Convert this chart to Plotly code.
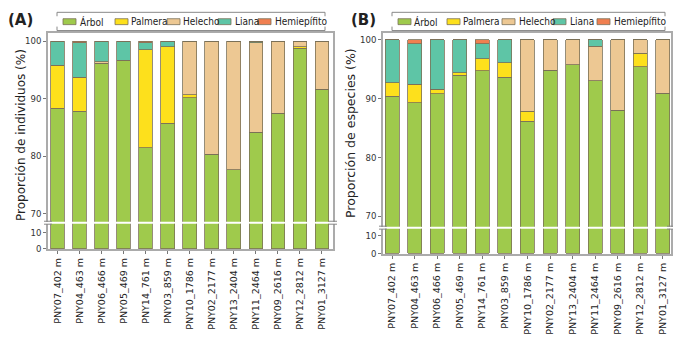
import plotly.graph_objects as go

categories = ["PNY07_402 m", "PNY04_463 m", "PNY06_466 m", "PNY05_469 m", "PNY14_761 m",
              "PNY03_859 m", "PNY10_1786 m", "PNY02_2177 m", "PNY13_2404 m", "PNY11_2464 m",
              "PNY09_2616 m", "PNY12_2812 m", "PNY01_3127 m"]
series_names = ["Árbol", "Palmera", "Helecho", "Liana", "Hemiepífito"]

# Panel A: proporción de individuos (%)
arbol_ind = [88.3, 87.8, 96.2, 96.6, 81.5, 85.7, 90.2, 80.3, 77.6, 84.2, 87.5, 98.8, 91.6]
palmera_ind = [7.5, 5.8, 0, 0, 17.0, 13.3, 0.5, 0, 0, 0, 0, 0.2, 0]
helecho_ind = [0, 0.1, 0.2, 0.1, 0, 0, 9.3, 19.7, 22.4, 15.5, 12.5, 1.0, 8.4]
liana_ind = [4.2, 6.0, 3.6, 3.3, 1.2, 1.0, 0, 0, 0, 0.3, 0, 0, 0]
hemi_ind = [0, 0.3, 0, 0, 0.3, 0, 0, 0, 0, 0, 0, 0, 0]

# Panel B: proporción de especies (%)
arbol_sp = [90.4, 89.3, 90.8, 93.9, 94.7, 93.6, 86.1, 94.8, 95.7, 93.0, 88.0, 95.4, 90.9]
palmera_sp = [2.3, 3.1, 0.8, 0.5, 2.0, 2.5, 1.7, 0, 0, 0, 0, 2.3, 0]
helecho_sp = [0, 0, 0, 0, 0, 0, 12.2, 5.2, 4.3, 5.9, 12.0, 2.3, 9.1]
liana_sp = [7.3, 6.9, 8.4, 5.6, 2.6, 3.9, 0, 0, 0, 1.1, 0, 0, 0]
hemi_sp = [0, 0.7, 0, 0, 0.7, 0, 0, 0, 0, 0, 0, 0, 0]

upper_ticks = [70, 80, 90, 100]
lower_ticks = [0, 10]

colors = ["#9fca4c", "#fde01c", "#edc893", "#5ec5a6", "#f07f50"]
outline = "#7a7058"
FONT = "DejaVu Sans"
FONT_C = "DejaVu Sans Condensed, DejaVu Sans"
W, H = 673, 345

def px_x(x):
    return x / W

def px_y(y):
    return 1 - y / H

fig = go.Figure()

panelA = [arbol_ind, palmera_ind, helecho_ind, liana_ind, hemi_ind]
panelB = [arbol_sp, palmera_sp, helecho_sp, liana_sp, hemi_sp]

for data, (xl, yl, xu, yu) in [(panelA, ("x", "y", "x2", "y2")), (panelB, ("x3", "y3", "x4", "y4"))]:
    for name, vals, col in zip(series_names, data, colors):
        for xa, ya in [(xl, yl), (xu, yu)]:
            fig.add_trace(go.Bar(
                x=categories, y=vals, name=name, xaxis=xa, yaxis=ya,
                marker=dict(color=col, line=dict(color=outline, width=0.8)),
                showlegend=False, hoverinfo="x+y+name"))

frame = "#ababab"
tickfont = dict(family=FONT_C, size=9.5, color="#333333")

def xax(dom, rng, lower):
    d = dict(domain=dom, range=rng, showline=True, linecolor=frame, linewidth=1.5,
             showgrid=False, zeroline=False, fixedrange=True)
    if lower:
        d.update(ticks="outside", ticklen=3, tickcolor="#777", tickangle=-90,
                 tickfont=dict(family=FONT, size=9.5, color="#222"), side="bottom")
    else:
        d.update(showticklabels=False, ticks="", side="top")
    return d

def yax(dom, rng, tickv, anchor):
    return dict(domain=dom, range=rng, anchor=anchor, showline=True, mirror=True,
                linecolor=frame, linewidth=1.5, showgrid=False, zeroline=False,
                tickvals=tickv, ticks="outside", ticklen=3, tickcolor="#777",
                tickfont=tickfont, fixedrange=True)

xA = [px_x(48), px_x(333)]
xB = [px_x(383), px_x(671)]
rA = [-0.43, 12.5]
rB = [-0.4, 12.36]

fig.update_layout(
    width=W, height=H, margin=dict(l=0, r=0, t=0, b=0),
    paper_bgcolor="white", plot_bgcolor="white",
    barmode="stack", bargap=0.38, showlegend=False,
    font=dict(family=FONT, color="#222"),
    xaxis=dict(**xax(xA, rA, True), anchor="y"),
    yaxis=yax([px_y(253), px_y(227)], [-0.4, 15.6], lower_ticks, "x"),
    xaxis2=dict(**xax(xA, rA, False), anchor="y2", matches="x"),
    yaxis2=yax([px_y(225), px_y(33)], [68.6, 101.5], upper_ticks, "x2"),
    xaxis3=dict(**xax(xB, rB, True), anchor="y3"),
    yaxis3=yax([px_y(258), px_y(232)], [-0.5, 13.9], lower_ticks, "x3"),
    xaxis4=dict(**xax(xB, rB, False), anchor="y4", matches="x3"),
    yaxis4=yax([px_y(230), px_y(33)], [68.2, 101.2], upper_ticks, "x4"),
)

shapes = []
annotations = []

# Break marks
for (x0, x1, ya, yb) in [(44, 52, 224.5, 227.5), (329, 337, 224.5, 227.5),
                         (379, 387, 229.5, 232.5), (667, 673, 229.5, 232.5)]:
    for yy in (ya, yb):
        shapes.append(dict(type="line", xref="paper", yref="paper",
                           x0=px_x(x0), x1=px_x(x1), y0=px_y(yy), y1=px_y(yy),
                           line=dict(color="#888", width=1)))

# Custom legends
legA = dict(box=(57, 325), sw=[63, 115, 167, 218, 258], tx=[78, 129, 181, 233, 273])
legB = dict(box=(392, 665), sw=[398, 447, 502, 553, 597], tx=[412, 461, 517, 568, 612])
for leg in (legA, legB):
    bx0, bx1 = leg["box"]
    top, bot = 12.5, 31
    for yy in (top, bot):
        shapes.append(dict(type="line", xref="paper", yref="paper",
                           x0=px_x(bx0), x1=px_x(bx1), y0=px_y(yy), y1=px_y(yy),
                           line=dict(color="#888", width=1)))
    for xx in (bx0, bx1):
        shapes.append(dict(type="line", xref="paper", yref="paper",
                           x0=px_x(xx), x1=px_x(xx), y0=px_y(top), y1=px_y(top + 4),
                           line=dict(color="#888", width=1)))
        shapes.append(dict(type="line", xref="paper", yref="paper",
                           x0=px_x(xx), x1=px_x(xx), y0=px_y(bot), y1=px_y(bot - 4),
                           line=dict(color="#888", width=1)))
    for name, col, s, t in zip(series_names, colors, leg["sw"], leg["tx"]):
        shapes.append(dict(type="rect", xref="paper", yref="paper",
                           x0=px_x(s), x1=px_x(s + 13), y0=px_y(25), y1=px_y(19),
                           fillcolor=col, line=dict(color=outline, width=0.8)))
        annotations.append(dict(text=name, xref="paper", yref="paper",
                                x=px_x(t), y=px_y(22), xanchor="left", yanchor="middle",
                                showarrow=False, font=dict(family=FONT_C, size=10, color="#222")))

# Panel labels
for lab, cx in [("(A)", 20), ("(B)", 363)]:
    annotations.append(dict(text="<b>" + lab + "</b>", xref="paper", yref="paper",
                            x=px_x(cx), y=px_y(20), xanchor="center", yanchor="middle",
                            showarrow=False, font=dict(family=FONT, size=15, color="#222")))

# Y titles
annotations.append(dict(text="Proporción de individuos (%)", xref="paper", yref="paper",
                        x=px_x(21), y=px_y(137), xanchor="center", yanchor="middle",
                        textangle=-90, showarrow=False,
                        font=dict(family=FONT, size=12, color="#222")))
annotations.append(dict(text="Proporción de especies (%)", xref="paper", yref="paper",
                        x=px_x(350), y=px_y(135), xanchor="center", yanchor="middle",
                        textangle=-90, showarrow=False,
                        font=dict(family=FONT, size=12.5, color="#222")))

fig.update_layout(shapes=shapes, annotations=annotations)
fig.write_html("out.html", config={"displayModeBar": False},
               post_script="document.body.style.margin='0';document.body.style.padding='0';")
